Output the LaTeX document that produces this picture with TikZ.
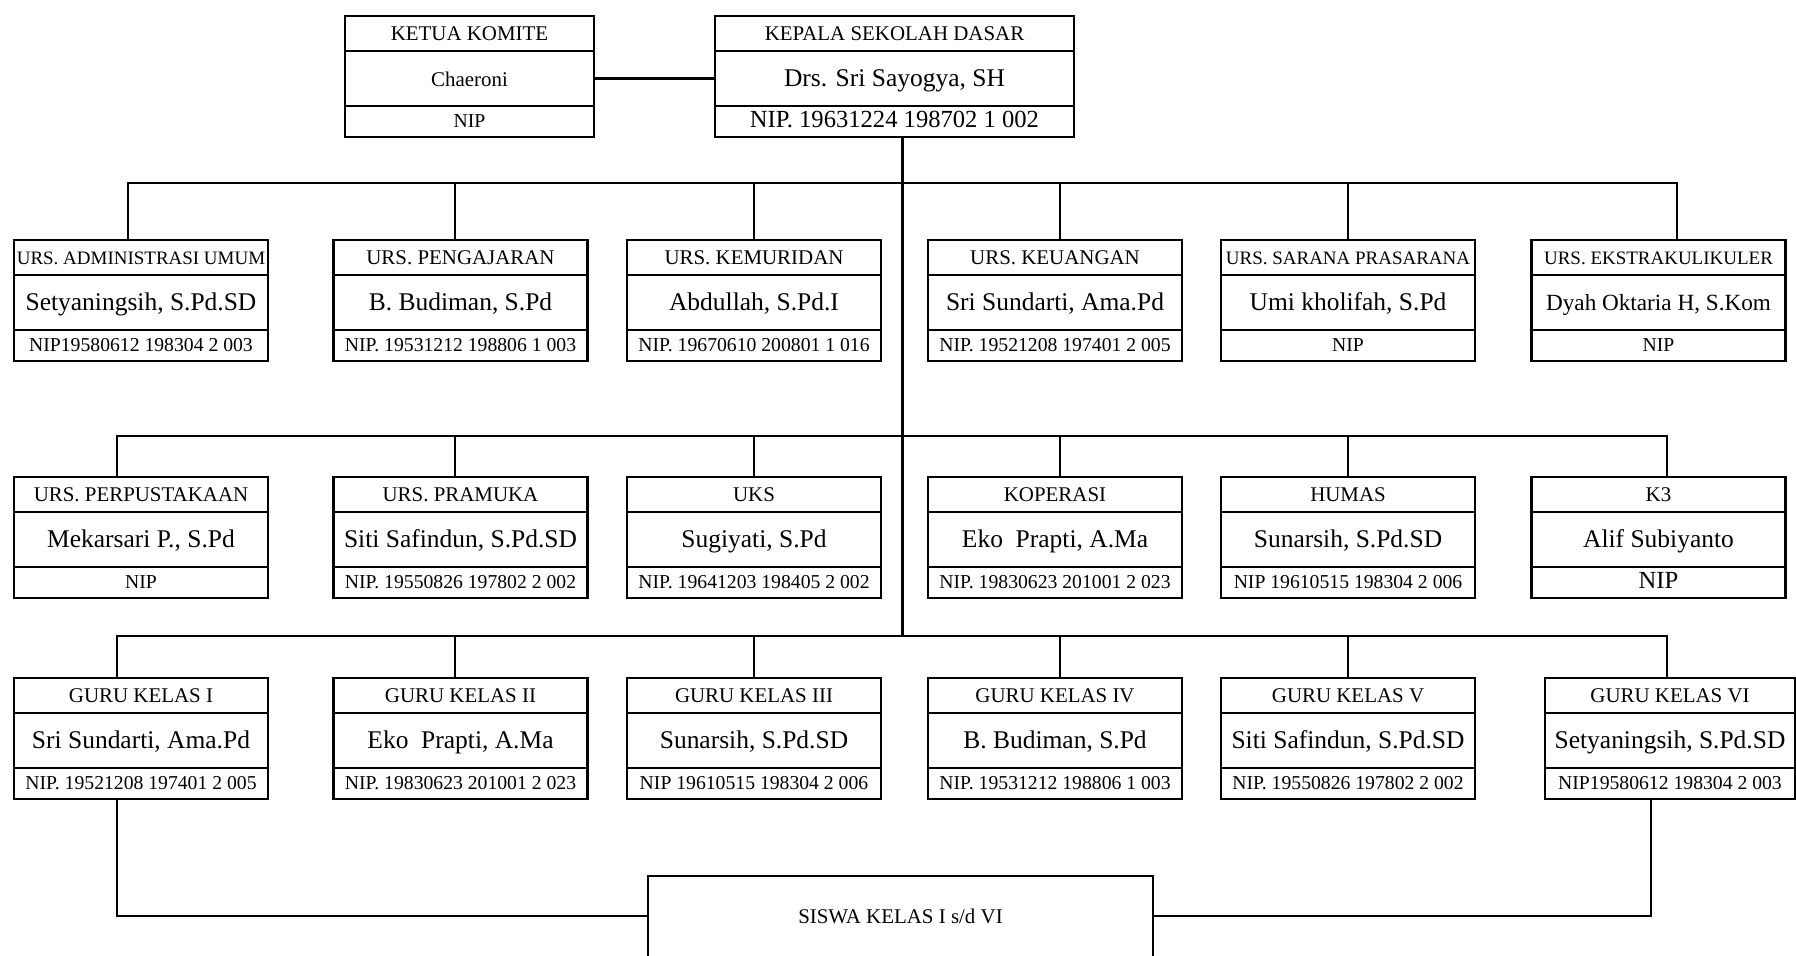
\documentclass[tikz,border=0pt]{standalone}
\usepackage{fontspec}
\setmainfont{Liberation Serif}
\usetikzlibrary{positioning}
\newcommand{\ukuran}[1]{\fontsize{#1}{#1}\selectfont}
\newcommand{\kotak}[6][5.08cm]{%
  \node[judul, minimum width=#1] (#2) at (#3) {#4};
  \node[nama, minimum width=#1, below=0pt of #2] (#2-n) {#5};
  \node[nomor, minimum width=#1, below=0pt of #2-n] (#2-p) {#6};
}
\tikzset{
  sel/.style={draw, line width=1.2pt, inner sep=0pt, outer sep=0pt},
  judul/.style={sel, anchor=north, minimum height=0.7cm, text height=7.9pt, text depth=0pt, font=\ukuran{11.9}},
  nama/.style={sel, minimum height=1.1cm, text height=9.6pt, text depth=0pt, font=\ukuran{14.5}},
  nomor/.style={sel, minimum height=0.62cm, text height=7.4pt, text depth=0pt, font=\ukuran{11.2}},
  garis/.style={line width=1.2pt}
}
\begin{document}
\begin{tikzpicture}
        \useasboundingbox (0,0) rectangle (35.92,19.12);
        \kotak[4.98cm]{ketua}{9.39,18.8}{KETUA KOMITE}{\ukuran{11.9}Chaeroni}{NIP}
        \kotak[7.18cm]{kepala}{17.89,18.8}{KEPALA SEKOLAH DASAR}{Drs. Sri Sayogya, SH}{\ukuran{14}NIP. 19631224 198702 1 002}
        \draw[garis] (ketua-n) -- (kepala-n);
        % urusan
        \kotak{u1}{2.82,14.32}{\ukuran{10.8}URS. ADMINISTRASI UMUM}{Setyaningsih, S.Pd.SD}{NIP19580612 198304 2 003}
        \kotak{u2}{9.21,14.32}{URS. PENGAJARAN}{B. Budiman, S.Pd}{NIP. 19531212 198806 1 003}
        \kotak{u3}{15.08,14.32}{URS. KEMURIDAN}{Abdullah, S.Pd.I}{NIP. 19670610 200801 1 016}
        \kotak{u4}{21.1,14.32}{URS. KEUANGAN}{Sri Sundarti, Ama.Pd}{NIP. 19521208 197401 2 005}
        \kotak{u5}{26.96,14.32}{\ukuran{10.8}URS. SARANA PRASARANA}{Umi kholifah, S.Pd}{NIP}
        \kotak{u6}{33.17,14.32}{\ukuran{10.8}URS. EKSTRAKULIKULER}{\ukuran{13.2}Dyah Oktaria H, S.Kom}{NIP}
        % pendukung
        \kotak{p1}{2.82,9.58}{URS. PERPUSTAKAAN}{Mekarsari P., S.Pd}{NIP}
        \kotak{p2}{9.21,9.58}{URS. PRAMUKA}{Siti Safindun, S.Pd.SD}{NIP. 19550826 197802 2 002}
        \kotak{p3}{15.08,9.58}{UKS}{Sugiyati, S.Pd}{NIP. 19641203 198405 2 002}
        \kotak{p4}{21.1,9.58}{KOPERASI}{Eko~ Prapti, A.Ma}{NIP. 19830623 201001 2 023}
        \kotak{p5}{26.96,9.58}{HUMAS}{Sunarsih, S.Pd.SD}{NIP 19610515 198304 2 006}
        \kotak{p6}{33.17,9.58}{K3}{Alif Subiyanto}{\ukuran{14}NIP}
        % guru kelas
        \kotak{g1}{2.82,5.56}{GURU KELAS I}{Sri Sundarti, Ama.Pd}{NIP. 19521208 197401 2 005}
        \kotak{g2}{9.21,5.56}{GURU KELAS II}{Eko~ Prapti, A.Ma}{NIP. 19830623 201001 2 023}
        \kotak{g3}{15.08,5.56}{GURU KELAS III}{Sunarsih, S.Pd.SD}{NIP 19610515 198304 2 006}
        \kotak{g4}{21.1,5.56}{GURU KELAS IV}{B. Budiman, S.Pd}{NIP. 19531212 198806 1 003}
        \kotak{g5}{26.96,5.56}{GURU KELAS V}{Siti Safindun, S.Pd.SD}{NIP. 19550826 197802 2 002}
        \kotak[5cm]{g6}{33.4,5.56}{GURU KELAS VI}{Setyaningsih, S.Pd.SD}{NIP19580612 198304 2 003}
        \coordinate (cab1) at (18.05,15.46);
        \coordinate (cab2) at (18.05,10.4);
        \coordinate (cab3) at (18.05,6.4);
        \draw[garis] (kepala-p.south -| cab3) -- (cab3);
        \foreach \k/\dx in {u1/-0.26, u2/-0.11, u3/0, u4/0.1, u5/0, u6/0.37}
          \draw[garis] ([xshift=\dx cm]\k.north) |- (cab1);
        \foreach \k/\dx in {p1/-0.48, p2/-0.11, p3/0, p4/0.1, p5/0, p6/0.17}
          \draw[garis] ([xshift=\dx cm]\k.north) |- (cab2);
        \foreach \k/\dx in {g1/-0.48, g2/-0.11, g3/0, g4/0.1, g5/0, g6/-0.06}
          \draw[garis] ([xshift=\dx cm]\k.north) |- (cab3);
        % siswa
        \node[anchor=north, minimum width=10.1cm, minimum height=1.6cm, font=\ukuran{11.9}] (siswa) at (18.01,1.6) {SISWA KELAS I s/d VI};
        \coordinate (dasar) at (0,0);
        \draw[garis] (siswa.north west |- dasar) -- (siswa.north west) -- (siswa.north east) -- (siswa.north east |- dasar);
        \draw[garis] ([xshift=-0.48cm]g1-p.south) |- (siswa.west);
        \draw[garis] ([xshift=-0.38cm]g6-p.south) |- (siswa.east);
\end{tikzpicture}
\end{document}
